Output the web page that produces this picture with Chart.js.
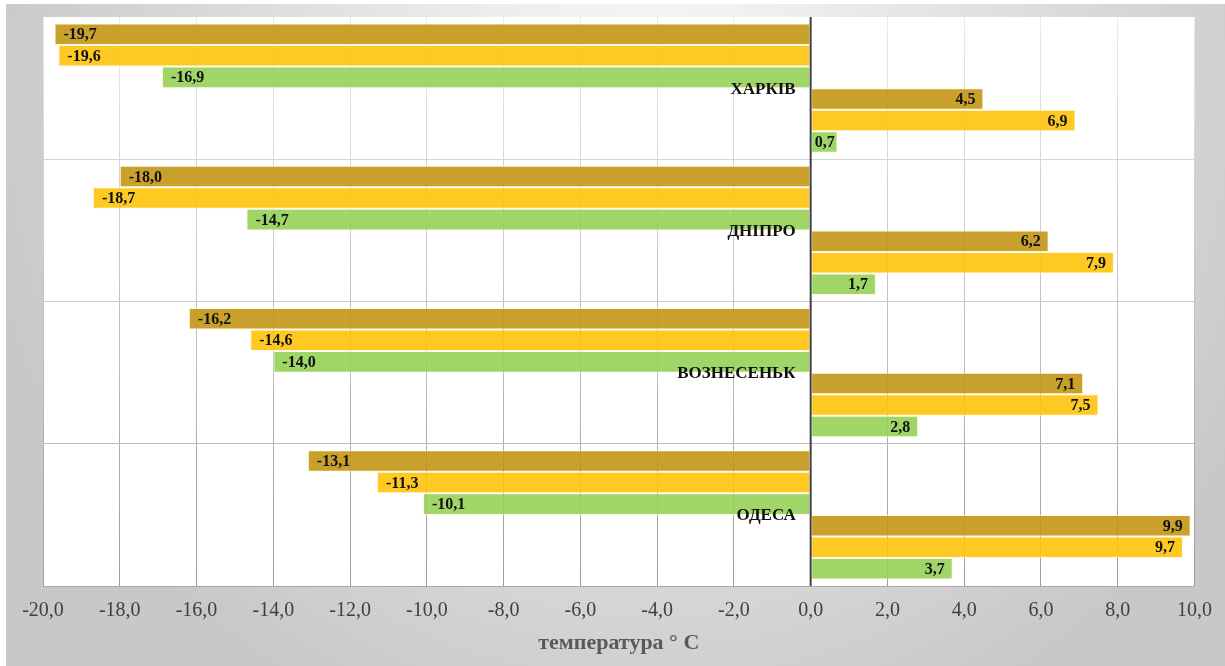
<!DOCTYPE html>
<html lang="uk">
<head>
<meta charset="utf-8">
<title>Температура</title>
<script src="https://cdn.jsdelivr.net/npm/chart.js@4"></script>
<style>
  html, body { margin: 0; padding: 0; background: #ffffff; }
  #wrap { width: 1225px; height: 666px; position: relative; }
</style>
</head>
<body>
<div id="wrap"><canvas id="chart" width="1225" height="666"></canvas></div>
<script>
// Міста
const cities = ['ХАРКІВ', 'ДНІПРО', 'ВОЗНЕСЕНЬК', 'ОДЕСА'];

// Мінімальні температури (три ряди)
const minA = [-19.7, -18.0, -16.2, -13.1];
const minB = [-19.6, -18.7, -14.6, -11.3];
const minC = [-16.9, -14.7, -14.0, -10.1];

// Максимальні температури (три ряди)
const maxA = [4.5, 6.2, 7.1, 9.9];
const maxB = [6.9, 7.9, 7.5, 9.7];
const maxC = [0.7, 1.7, 2.8, 3.7];

// Вісь температури
const xMin = -20;
const xMax = 10;
const xStep = 2;
const axisTitle = 'температура ° С';

const GOLD = 'rgba(194,150,20,0.9)';
const YELLOW = 'rgba(255,195,12,0.9)';
const GREEN = 'rgba(150,209,88,0.9)';

const fmt = v => v.toFixed(1).replace('.', ',');

function series(data, color) {
  return {
    data: data,
    backgroundColor: color,
    borderColor: 'rgba(255,248,215,0.75)',
    borderWidth: 1,
    borderSkipped: false,
    categoryPercentage: 0.91,
    barPercentage: 1.0
  };
}

// Градієнт для ліній сітки: світліший угорі, темніший унизу
function gridGradient(chart, top, bottom) {
  const area = chart.chartArea;
  if (!area) return top;
  const g = chart.ctx.createLinearGradient(0, area.top, 0, area.bottom);
  g.addColorStop(0, top);
  g.addColorStop(1, bottom);
  return g;
}

// Фон: сіра рамка з радіальним переходом і біле поле графіка
const backdrop = {
  id: 'backdrop',
  beforeDraw(chart) {
    const {ctx, chartArea, width, height} = chart;
    ctx.save();
    ctx.fillStyle = '#ffffff';
    ctx.fillRect(0, 0, width, height);
    const g = ctx.createRadialGradient(650, 100, 0, 650, 100, 680);
    g.addColorStop(0, '#fafafa');
    g.addColorStop(1, '#c8c8c8');
    ctx.fillStyle = g;
    ctx.fillRect(6, 4, width - 6, height - 4);
    ctx.fillStyle = '#ffffff';
    ctx.fillRect(chartArea.left, chartArea.top, chartArea.right - chartArea.left, chartArea.bottom - chartArea.top);
    ctx.restore();
  }
};

// Нульова лінія, підписи значень і назви міст
const annotate = {
  id: 'annotate',
  afterDatasetsDraw(chart) {
    const {ctx, chartArea} = chart;
    const xs = chart.scales.x;
    const ys = chart.scales.y;
    const x0 = xs.getPixelForValue(0);
    ctx.save();

    ctx.strokeStyle = '#404040';
    ctx.lineWidth = 2;
    ctx.beginPath();
    ctx.moveTo(x0, chartArea.top);
    ctx.lineTo(x0, chartArea.bottom);
    ctx.stroke();

    ctx.fillStyle = '#111111';
    ctx.font = 'bold 16px "Liberation Serif", "Times New Roman", serif';
    ctx.textBaseline = 'middle';
    chart.data.datasets.forEach((ds, di) => {
      const meta = chart.getDatasetMeta(di);
      meta.data.forEach((bar, i) => {
        const v = ds.data[i];
        const txt = fmt(v);
        const w = ctx.measureText(txt).width;
        if (v < 0) {
          ctx.textAlign = 'left';
          ctx.fillText(txt, bar.x + 9, bar.y + 1);
        } else {
          ctx.textAlign = 'right';
          const xr = Math.max(bar.x - 8, x0 + 4 + w);
          ctx.fillText(txt, xr, bar.y + 1);
        }
      });
    });

    ctx.fillStyle = '#111111';
    ctx.font = 'bold 17px "Liberation Serif", "Times New Roman", serif';
    ctx.textAlign = 'right';
    ctx.textBaseline = 'middle';
    cities.forEach((c, i) => {
      ctx.fillText(c, x0 - 15, ys.getPixelForValue(i) + 1);
    });
    ctx.restore();
  }
};

new Chart(document.getElementById('chart'), {
  type: 'bar',
  data: {
    labels: cities,
    datasets: [
      series(minA, GOLD),
      series(minB, YELLOW),
      series(minC, GREEN),
      series(maxA, GOLD),
      series(maxB, YELLOW),
      series(maxC, GREEN)
    ]
  },
  options: {
    indexAxis: 'y',
    responsive: false,
    animation: false,
    devicePixelRatio: 1,
    layout: { padding: { left: 43, right: 29, top: 17, bottom: 0 } },
    plugins: {
      legend: { display: false },
      tooltip: { enabled: false },
      title: { display: false }
    },
    scales: {
      x: {
        type: 'linear',
        min: xMin,
        max: xMax,
        afterFit: s => { s.height = 80; },
        ticks: {
          stepSize: xStep,
          padding: 13,
          color: '#404040',
          font: { family: '"Liberation Serif", "Times New Roman", serif', size: 20 },
          callback: v => fmt(v)
        },
        grid: {
          drawTicks: false,
          color: ctx => gridGradient(ctx.chart, '#eaeaea', '#9c9c9c'),
          lineWidth: 1
        },
        border: { display: true, color: '#a8a8a8', width: 1 },
        title: {
          display: true,
          text: axisTitle,
          color: '#595959',
          font: { family: '"Liberation Serif", "Times New Roman", serif', size: 22, weight: 'bold' },
          padding: { top: 0, bottom: 9 }
        }
      },
      y: {
        type: 'category',
        position: 'left',
        afterFit: s => { s.width = 0; },
        ticks: { display: false },
        grid: {
          offset: true,
          drawTicks: false,
          color: ctx => ctx.index === 0 ? 'rgba(0,0,0,0)' : gridGradient(ctx.chart, '#e2e2e2', '#b0b0b0'),
          lineWidth: 1
        },
        border: { display: false }
      }
    }
  },
  plugins: [backdrop, annotate]
});
</script>
</body>
</html>
